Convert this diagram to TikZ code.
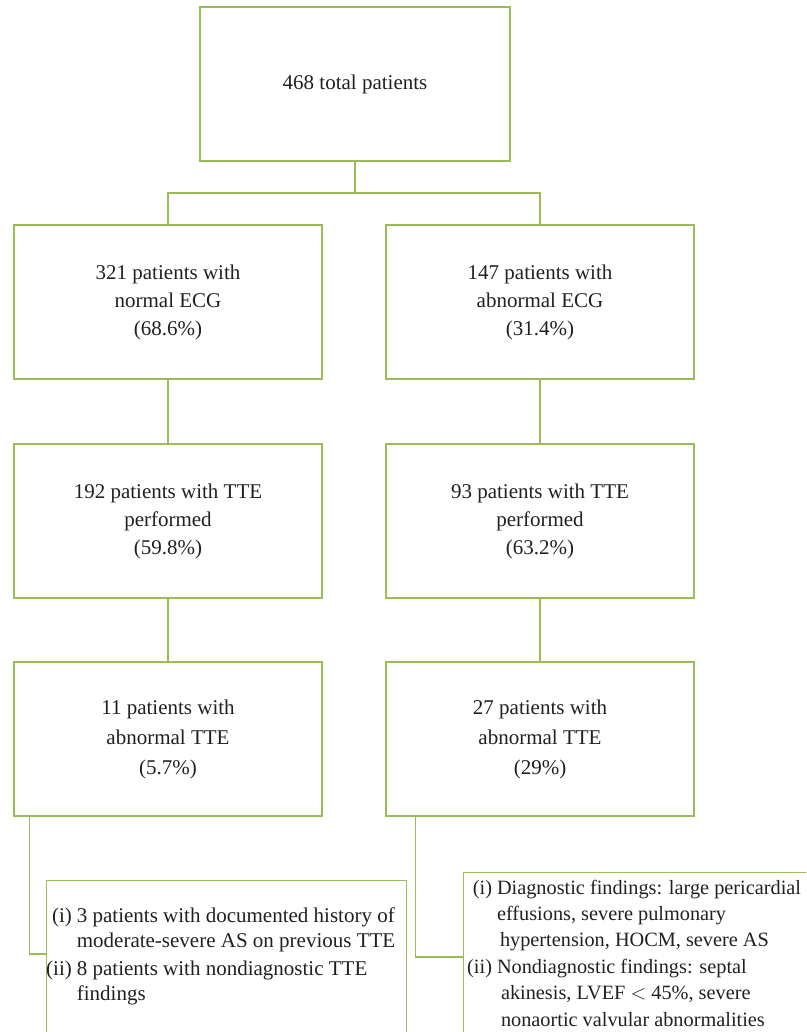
\documentclass[tikz,border=0pt]{standalone}
\usepackage{fontspec}
\setmainfont{Liberation Serif}
\usetikzlibrary{positioning, calc}
\definecolor{boxolive}{RGB}{155,187,89}
\definecolor{inkblack}{RGB}{35,31,32}

\begin{document}
\begin{tikzpicture}[x=1pt, y=-1pt,
    box/.style={draw=boxolive, line width=1.3pt, rectangle, minimum width=308pt, minimum height=154pt,
        inner sep=0pt, align=center, text=inkblack, font=\fontsize{21}{28}\selectfont},
    notebox/.style={draw=boxolive, line width=1.3pt, rectangle, inner sep=0pt, anchor=north west},
    notetext/.style={inner sep=0pt, anchor=base west, text=inkblack},
    link/.style={draw=boxolive, line width=1.3pt}]
    \useasboundingbox (0,0) rectangle (806,1032);
    \clip (0,0) rectangle (806,1032);

    % top and the two ECG groups
    \node[box, minimum width=310pt] (total) at (355,84) {468 total patients};
    \node[box] (normal) at (168,302) {321 patients with\\normal ECG\\(68.6\%)};
    \node[box] (abnormal) at (540,302) {147 patients with\\abnormal ECG\\(31.4\%)};

    % TTE performed
    \node[box] (normtte) at (168,521) {192 patients with TTE\\performed\\(59.8\%)};
    \node[box] (abntte) at (540,521) {93 patients with TTE\\performed\\(63.2\%)};

    % abnormal TTE
    \node[box, font=\fontsize{21}{30}\selectfont] (normabn) at (168,739) {11 patients with\\abnormal TTE\\(5.7\%)};
    \node[box, font=\fontsize{21}{30}\selectfont] (abnabn) at (540,739) {27 patients with\\abnormal TTE\\(29\%)};

    % findings
    \node[notebox, minimum width=360pt, minimum height=220pt] (noteL) at (46,880) {};
    \node[notebox, minimum width=400pt, minimum height=220pt] (noteR) at (463,872) {};
    \node[notetext, font=\fontsize{21}{25}\selectfont] (noteLtxt) at (46,922) {%
        \begin{tabular}[t]{@{}r@{\hspace{5pt}}l@{}}
        (i) & 3 patients with documented history of\\
            & moderate-severe AS on previous TTE\\[3pt]
        (ii) & 8 patients with nondiagnostic TTE\\
            & findings
        \end{tabular}};
    \node[notetext, font=\fontsize{20.3}{26.4}\selectfont] (noteRtxt) at (467,894) {%
        \begin{tabular}[t]{@{}r@{\hspace{5pt}}l@{}}
        (i) & Diagnostic findings: large pericardial\\
            & effusions, severe pulmonary\\
            & \hspace{3pt}hypertension, HOCM, severe AS\\
        (ii) & Nondiagnostic findings: septal\\
            & \hspace{4pt}akinesis, LVEF $<$ 45\%, severe\\
            & \hspace{4pt}nonaortic valvular abnormalities
        \end{tabular}};

    \coordinate (split) at (355,193);
    \draw[link] (total) -- (split) -| (normal.north);
    \draw[link] (split) -| (abnormal.north);
    \draw[link] (normal) -- (normtte);
    \draw[link] (abnormal) -- (abntte);
    \draw[link] (normtte) -- (normabn);
    \draw[link] (abntte) -- (abnabn);
    \draw[link] ([xshift=16pt]normabn.south west) |- ([yshift=-74pt]noteL.north west);
    \draw[link] ([xshift=30pt]abnabn.south west) |- ([yshift=-85pt]noteR.north west);
\end{tikzpicture}
\end{document}
